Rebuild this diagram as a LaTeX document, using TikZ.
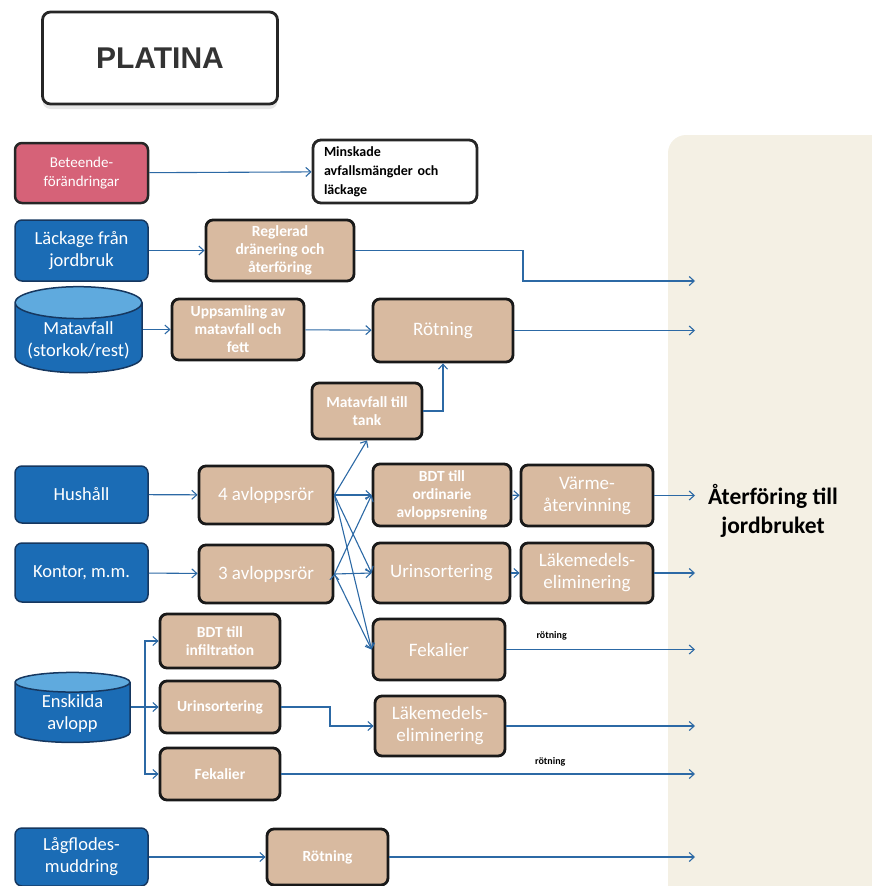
\documentclass[tikz,border=0pt]{standalone}
\usepackage{fontspec}
\setmainfont{Carlito}
\newfontfamily\titlefont{Liberation Sans}
\usepackage{tikz}
\usetikzlibrary{arrows.meta,shapes.geometric,shadows}
\definecolor{boxblue}{RGB}{27,108,181}
\definecolor{boxnavy}{RGB}{22,55,95}
\definecolor{cylend}{RGB}{95,170,222}
\definecolor{boxpink}{RGB}{214,98,120}
\definecolor{boxtan}{RGB}{216,186,160}
\definecolor{panelbg}{RGB}{244,240,228}
\definecolor{connblue}{RGB}{44,105,165}
\tikzset{
  bluebox/.style={rectangle, rounded corners=7pt, fill=boxblue, draw=boxnavy, line width=1.5pt,
    text=white, align=center, inner sep=2pt, font=\fontsize{18.5}{22}\selectfont},
  pinkbox/.style={bluebox, fill=boxpink, draw=black!85, line width=2.5pt},
  bluecyl/.style={cylinder, shape border rotate=90, aspect=0.3, cylinder uses custom fill,
    cylinder body fill=boxblue, cylinder end fill=cylend, draw=boxnavy, line width=1.5pt,
    text=white, align=center, inner sep=2pt, font=\fontsize{18.5}{22}\selectfont},
  tanbox/.style={rectangle, rounded corners=7pt, fill=boxtan, draw=black!90, line width=2.8pt,
    text=white, align=center, inner sep=2pt, font=\fontsize{19}{22}\selectfont},
  smalltan/.style={tanbox, font=\fontsize{15.5}{18}\selectfont\bfseries},
  whitebox/.style={rectangle, rounded corners=8pt, fill=white, draw=black!85, line width=2.8pt},
  conn/.style={draw=connblue, line width=1.1pt, -{Straight Barb[length=5pt,width=9pt]}},
  lbl/.style={font=\fontsize{10}{11}\selectfont\bfseries, text=black, inner sep=2pt}
}
\begin{document}
\begin{tikzpicture}[x=1pt,y=-1pt]
    \useasboundingbox (0,0) rectangle (871,886);
    \fill[panelbg, rounded corners=18pt] (668,135) rectangle (900,920);

    \node[whitebox, minimum width=235, minimum height=92, text=black!80, font=\titlefont\fontsize{30}{34}\selectfont\bfseries,
      drop shadow={opacity=0.2, shadow xshift=0pt, shadow yshift=-5pt}] (1) at (160,58) {PLATINA};

    \node[pinkbox, minimum width=133, minimum height=60, font=\fontsize{15}{19}\selectfont] (2) at (81.5,173) {Beteende-\\förändringar};
    \node[whitebox, minimum width=164, minimum height=63, align=left, text width=142,
      font=\fontsize{14}{19}\selectfont\bfseries] (3) at (395,171.5) {Minskade\\avfallsmängder och\\läckage};

    \node[bluebox, minimum width=133, minimum height=61] (4) at (81.5,250.5) {Läckage från\\jordbruk};
    \node[smalltan, minimum width=148, minimum height=61] (5) at (280,250.5) {Reglerad\\dränering och\\återföring};

    \node[bluecyl, minimum width=127, minimum height=76] (6) at (78.5,340) {Matavfall\\(storkok/rest)};
    \node[smalltan, minimum width=132, minimum height=61] (7) at (238,329.5) {Uppsamling av\\matavfall och\\fett};
    \node[tanbox, minimum width=140, minimum height=63] (8) at (443,330.5) {Rötning};
    \node[smalltan, minimum width=110, minimum height=56] (9) at (367,411) {Matavfall till\\tank};

    \node[bluebox, minimum width=133, minimum height=57] (10) at (81.5,494.5) {Hushåll};
    \node[tanbox, minimum width=134, minimum height=58] (11) at (266,495) {4 avloppsrör};
    \node[smalltan, minimum width=138, minimum height=62] (12) at (442,495) {BDT till\\ordinarie\\avloppsrening};
    \node[tanbox, minimum width=132, minimum height=61] (13) at (587,495.5) {Värme-\\återvinning};

    \node[bluebox, minimum width=133, minimum height=59] (14) at (81.5,572.5) {Kontor, m.m.};
    \node[tanbox, minimum width=134, minimum height=58] (15) at (266,574) {3 avloppsrör};
    \node[tanbox, minimum width=137, minimum height=60] (16) at (441.5,573) {Urinsortering};
    \node[tanbox, minimum width=132, minimum height=60] (17) at (587,573) {Läkemedels-\\eliminering};
    \node[tanbox, minimum width=132, minimum height=61] (18) at (439,649.5) {Fekalier};

    \node[bluecyl, minimum width=115, minimum height=70] (19) at (72.5,714) {Enskilda\\avlopp};
    \node[smalltan, minimum width=120, minimum height=54] (20) at (220,641) {BDT till\\infiltration};
    \node[smalltan, minimum width=120, minimum height=52] (21) at (220,707) {Urinsortering};
    \node[smalltan, minimum width=120, minimum height=52] (22) at (220,774) {Fekalier};
    \node[tanbox, minimum width=130, minimum height=60] (23) at (440,726) {Läkemedels-\\eliminering};

    \node[bluebox, minimum width=133, minimum height=58] (24) at (81.5,857) {Lågflodes-\\muddring};
    \node[smalltan, minimum width=121, minimum height=56] (25) at (327.5,857) {Rötning};

    \node[font=\fontsize{23.5}{29}\selectfont\bfseries, align=center] (26) at (773,511) {Återföring till\\jordbruket};

    % free ends and bends
    \coordinate (e5) at (695,281);
    \coordinate (k5) at (523,250.5);
    \coordinate (e8) at (695,330.5);
    \coordinate (e13) at (695,495.5);
    \coordinate (e17) at (695,573);
    \coordinate (e18) at (695,649.5);
    \coordinate (e23) at (695,726);
    \coordinate (e22) at (695,774);
    \coordinate (e25) at (695,857);
    \coordinate (k19) at (145,707);
    \coordinate (k21) at (330,707);

    \path[conn]
    (2) edge (3)
    (4) edge (5)
    (7.west -| 6.east) edge (7.west)
    (7) edge (8)
    (8) edge (e8)
    (10) edge (11)
    (14) edge (15)
    (11.east) edge (9.south)
    (11.east) edge (12.west)
    (11.east) edge (16.west)
    (11.east) edge (18.west)
    (15.east) edge (12.west)
    (15.east) edge (16.west)
    (15.east) edge (18.west)
    (12) edge (13)
    (13) edge (e13)
    (16) edge (17)
    (17) edge (e17)
    (18) edge node[lbl, pos=0.24, above=7pt]{rötning} (e18)
    (23) edge (e23)
    (22) edge node[lbl, pos=0.65, above=5pt]{rötning} (e22)
    (24) edge (25)
    (25) edge (e25);

    \draw[conn] (9.east) -| (8.south);
    \draw[conn] (5.east) -- (k5) |- (e5);
    \draw[conn] (k19 -| 19.east) -- (k19) |- (20.west);
    \draw[conn] (k19) -- (21.west);
    \draw[conn] (k19) |- (22.west);
    \draw[conn] (21.east) -- (k21) |- (23.west);
\end{tikzpicture}
\end{document}
